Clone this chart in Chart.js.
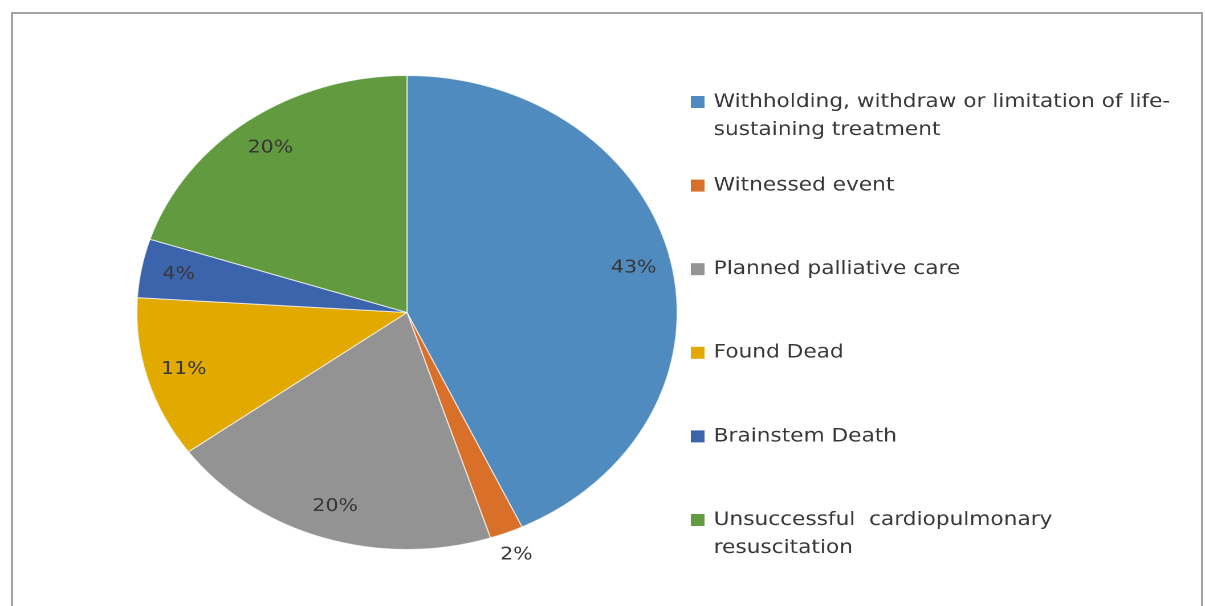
<!DOCTYPE html>
<html>
<head>
<meta charset="utf-8">
<script src="https://cdn.jsdelivr.net/npm/chart.js@4/dist/chart.umd.min.js"></script>
<style>
  html, body { margin: 0; padding: 0; background: #fff; overflow: hidden; }
  #frame {
    position: absolute; left: 11px; top: 12px; width: 1192px; height: 620px;
    border: 2px solid #a3a3a3; box-sizing: border-box;
  }
  /* the chart is laid out on a narrower canvas and widened horizontally */
  #wrap {
    position: absolute; left: 0; top: 0; width: 1057px; height: 606px;
    transform: scaleX(1.14); transform-origin: 0 0;
  }
</style>
</head>
<body>
<div id="frame"></div>
<div id="wrap"><canvas id="c" width="1057" height="606" style="width:1057px;height:606px"></canvas></div>
<script>
const categories = [
  'Withholding, withdraw or limitation of life-sustaining treatment',
  'Witnessed event',
  'Planned palliative care',
  'Found Dead',
  'Brainstem Death',
  'Unsuccessful cardiopulmonary resuscitation'
];
const legendLines = [
  ['Withholding, withdraw or limitation of life-', 'sustaining treatment'],
  ['Witnessed event'],
  ['Planned palliative care'],
  ['Found Dead'],
  ['Brainstem Death'],
  ['Unsuccessful  cardiopulmonary', 'resuscitation']
];
const percentages = [43, 2, 20, 11, 4, 20];
const sliceColors = ['#4f8bbe', '#d9702a', '#939393', '#e2aa00', '#3c64ac', '#629a3f'];

const TEXT = '#383838';
const FONT = '"DejaVu Sans", Verdana, sans-serif';

// Percentage labels: inside the slice, or just outside for very thin ones
const pctLabels = {
  id: 'pctLabels',
  afterDatasetsDraw(chart) {
    const ctx = chart.ctx;
    const meta = chart.getDatasetMeta(0);
    const values = chart.data.datasets[0].data;
    ctx.save();
    ctx.font = '18px ' + FONT;
    ctx.fillStyle = TEXT;
    ctx.textAlign = 'center';
    ctx.textBaseline = 'middle';
    meta.data.forEach((arc, i) => {
      const p = arc.getProps(['x', 'y', 'startAngle', 'endAngle', 'outerRadius'], true);
      const mid = (p.startAngle + p.endAngle) / 2;
      const f = values[i] < 3 ? 1.1 : 0.86;
      const x = p.x + Math.cos(mid) * p.outerRadius * f;
      const y = p.y + Math.sin(mid) * p.outerRadius * f;
      ctx.fillText(values[i] + '%', x, y);
    });
    ctx.restore();
  }
};

// Legend on the right, with wrapped entries
const sideLegend = {
  id: 'sideLegend',
  afterDraw(chart) {
    const ctx = chart.ctx;
    const x0 = 606, textX = 626, firstY = 102, step = 83.6, lineH = 28, box = 12;
    ctx.save();
    ctx.font = '19px ' + FONT;
    ctx.textAlign = 'left';
    ctx.textBaseline = 'middle';
    legendLines.forEach((lines, i) => {
      const y = firstY + i * step;
      ctx.fillStyle = sliceColors[i];
      ctx.fillRect(x0, y - box / 2, box, box);
      ctx.fillStyle = TEXT;
      lines.forEach((t, j) => ctx.fillText(t, textX, y + j * lineH));
    });
    ctx.restore();
  }
};

new Chart(document.getElementById('c'), {
  type: 'pie',
  data: {
    labels: categories,
    datasets: [{
      data: percentages,
      backgroundColor: sliceColors,
      borderColor: 'rgba(255,255,255,0.7)',
      borderWidth: 1
    }]
  },
  options: {
    responsive: false,
    maintainAspectRatio: false,
    animation: false,
    devicePixelRatio: 2,
    layout: { padding: { left: 119.5, right: 462.5, top: 75, bottom: 56 } },
    plugins: { legend: { display: false }, tooltip: { enabled: false } }
  },
  plugins: [pctLabels, sideLegend]
});
</script>
</body>
</html>
